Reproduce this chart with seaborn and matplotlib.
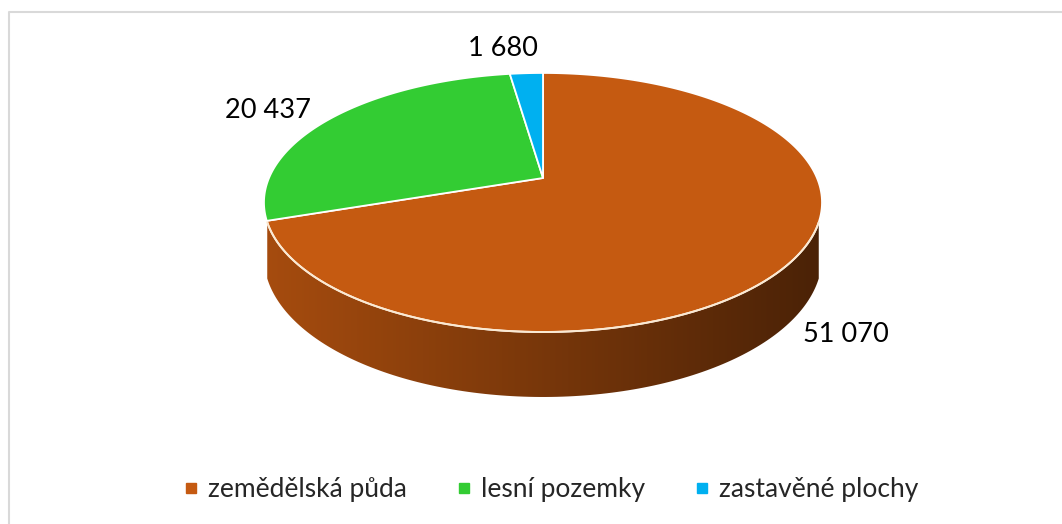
import numpy as np
import matplotlib
matplotlib.use("Agg")
import matplotlib.pyplot as plt
from matplotlib.lines import Line2D
from matplotlib.patches import Polygon
from matplotlib.colors import to_rgb
import seaborn as sns

categories = ['zemědělská půda', 'lesní pozemky', 'zastavěné plochy']
values = [51070, 20437, 1680]
value_labels = ['51 070', '20 437', '1 680']
colors = ['#C55A11', '#33CC33', '#00B0F0']

sns.set_theme(style='white')
plt.rcParams['font.family'] = ['Lato', 'DejaVu Sans']

# 3D pie geometry (pixel space of the figure)
cx, cy = 543, 178      # apex of the slices
sx, sy = 274, 124.9    # radii of the top disk
k = 0.189              # perspective strength
depth = 52.7           # thickness of the pie
hidden = np.radians(8.5)  # side hidden near the silhouette

fig = plt.figure(figsize=(10.62, 5.24), dpi=100)
ax = fig.add_axes([0, 0, 1, 1])
ax.axis('off')


def project(t, z=0.0):
    X, Y = np.cos(t), np.sin(t)
    w = 1 + k * Y
    return cx + sx * X / w, cy - sy * Y / w + z * depth / w


fracs = np.array(values) / np.sum(values)
bounds = np.concatenate([[0], np.cumsum(fracs)])
# Excel starts at 12 o'clock and goes clockwise
starts = np.pi / 2 - 2 * np.pi * bounds[:-1]
ends = np.pi / 2 - 2 * np.pi * bounds[1:]

# side of the pie (front, visible part), one gradient per slice
vis_lo = np.pi + np.arcsin(k) + hidden
vis_hi = 2 * np.pi - np.arcsin(k) - hidden
xs_grad = np.linspace(cx - sx * 1.05, cx + sx * 1.05, 400)
for s, e, c in zip(starts, ends, colors):
    # slice covers [e, s] (mod 2pi); find overlap with visible range
    for shift in (0, 2 * np.pi, -2 * np.pi):
        lo = max(e + shift, vis_lo)
        hi = min(s + shift, vis_hi)
        if hi <= lo:
            continue
        ts = np.linspace(lo, hi, 150)
        xt, yt = project(ts)
        xb, yb = project(ts[::-1], 1.0)
        poly = Polygon(np.column_stack([np.concatenate([xt, xb]),
                                        np.concatenate([yt, yb])]),
                       closed=True, fc='none', ec='none')
        ax.add_patch(poly)
        f = 0.61 - 0.23 * (xs_grad - cx) / sx
        grad = np.clip(np.outer(np.ones(2), f)[:, :, None] * np.array(to_rgb(c)), 0, 1)
        im = ax.imshow(grad, extent=(xs_grad[0], xs_grad[-1], 460, 0),
                       aspect='auto', interpolation='bilinear', zorder=1)
        im.set_clip_path(poly)

# top surface slices
for s, e, c in zip(starts, ends, colors):
    ts = np.linspace(s, e, 200)
    xa, ya = project(ts)
    ax.fill(np.concatenate([[cx], xa]), np.concatenate([[cy], ya]),
            fc=c, ec='white', lw=1.3, joinstyle='round', zorder=2)

# light rim between top and side
xr, yr = project(np.linspace(vis_lo, vis_hi, 300))
ax.plot(xr, yr, color='#FBE9D2', lw=1.4, zorder=3)

# data labels
label_pos = [(846, 335), (268, 110), (503, 49)]
for (lx, ly), txt in zip(label_pos, value_labels):
    ax.text(lx, ly, txt, ha='center', va='center', fontsize=19.5, color='black')

# chart border
ax.add_line(Line2D([9, 9, 1070], [530, 12, 12], color='#D9D9D9', lw=1.5))

ax.set_xlim(0, 1062)
ax.set_ylim(524, 0)

handles = [Line2D([], [], marker='s', ls='', markersize=7,
                  markerfacecolor=c, markeredgecolor=c) for c in colors]
fig.legend(handles, categories, loc='center', bbox_to_anchor=(0.516, 1 - 490 / 524),
           ncol=3, frameon=False, fontsize=19, handletextpad=0.15,
           columnspacing=1.65, handlelength=1.0)

fig.savefig('out.png', dpi=100)
